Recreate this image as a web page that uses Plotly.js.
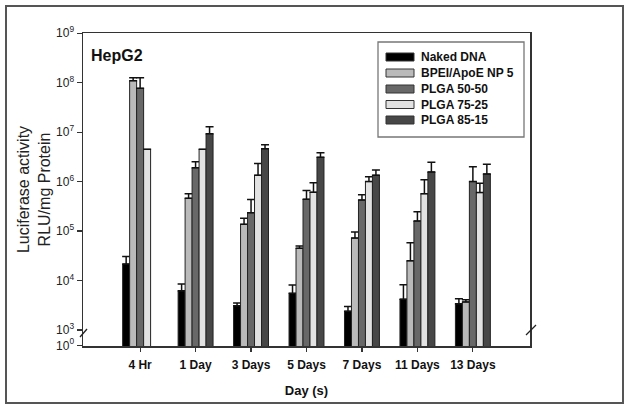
<!DOCTYPE html>
<html>
<head>
<meta charset="utf-8">
<script src="https://cdn.plot.ly/plotly-3.0.1.min.js"></script>
<style>
  html, body { margin: 0; padding: 0; background: #fff; }
  #wrap { position: relative; width: 629px; height: 411px; }
  #chart { width: 629px; height: 411px; }
  #frame { position: absolute; left: 5px; top: 5px; width: 615px; height: 395px;
           border: 2px solid #555; pointer-events: none; }
</style>
</head>
<body>
<div id="wrap">
  <div id="chart"></div>
  <div id="frame"></div>
</div>
<script>
// ---- data ----
const categories = ['4 Hr', '1 Day', '3 Days', '5 Days', '7 Days', '11 Days', '13 Days'];
const seriesNames = ['Naked DNA', 'BPEI/ApoE NP 5', 'PLGA 50-50', 'PLGA 75-25', 'PLGA 85-15'];

const nakedDNA    = [2.15e4, 6.2e3, 3.1e3, 5.5e3, 2.4e3, 4.2e3, 3.4e3];
const nakedDNAErr = [0.9e4, 2.3e3, 0.4e3, 2.6e3, 0.6e3, 4.0e3, 0.9e3];
const bpei        = [1.1e8, 4.6e5, 1.37e5, 4.5e4, 7.2e4, 2.5e4, 3.7e3];
const bpeiErr     = [1.6e7, 1.1e5, 4.5e4, 5e3, 2.4e4, 3.3e4, 0.4e3];
const plga5050    = [7.7e7, 1.9e6, 2.35e5, 4.4e5, 4.25e5, 1.6e5, 1.0e6];
const plga5050Err = [4.9e7, 6.2e5, 2.0e5, 2.2e5, 1.2e5, 8.7e4, 1.0e6];
const plga7525    = [4.5e6, 4.5e6, 1.35e6, 6.1e5, 1.0e6, 5.7e5, 6.0e5];
const plga7525Err = [0, 0, 9.7e5, 3.4e5, 2.6e5, 5.2e5, 3.3e5];
const plga8515    = [null, 9.3e6, 4.6e6, 3.1e6, 1.35e6, 1.57e6, 1.43e6];
const plga8515Err = [null, 3.6e6, 9.5e5, 7.4e5, 3.6e5, 8.9e5, 8.1e5];

const yTickVals = [Math.pow(10, 2.69), 1e3, 1e4, 1e5, 1e6, 1e7, 1e8, 1e9];
const yTickText = ['10<sup>0</sup>', '10<sup>3</sup>', '10<sup>4</sup>', '10<sup>5</sup>',
                   '10<sup>6</sup>', '10<sup>7</sup>', '10<sup>8</sup>', '10<sup>9</sup>'];

// ---- styles ----
const colors = ['#000000', '#bababa', '#686868', '#e2e2e2', '#474747'];
const values = [nakedDNA, bpei, plga5050, plga7525, plga8515];
const errors = [nakedDNAErr, bpeiErr, plga5050Err, plga7525Err, plga8515Err];
const FONT = 'Liberation Sans, Arial, sans-serif';

const traces = seriesNames.map((name, i) => ({
  type: 'bar',
  name: name,
  x: categories,
  y: values[i],
  marker: { color: colors[i], line: { color: '#222', width: 1 } },
  error_y: {
    type: 'data', symmetric: false,
    array: errors[i],
    arrayminus: errors[i].map(() => 0),
    color: '#111', thickness: 1.5, width: 4
  },
  showlegend: false
}));

// pixel -> paper helpers (plot area 83..530 x 33..346)
const L = 83, R = 530, T = 33, B = 346;
const px = x => (x - L) / (R - L);
const py = y => (B - y) / (B - T);

const shapes = [
  // axis break marks
  { type: 'line', xref: 'paper', yref: 'paper', x0: px(80), y0: py(337), x1: px(87), y1: py(329),
    line: { color: '#222', width: 1.3 } },
  { type: 'line', xref: 'paper', yref: 'paper', x0: px(526), y0: py(335), x1: px(536), y1: py(325),
    line: { color: '#222', width: 1.3 } },
  // legend box
  { type: 'rect', xref: 'paper', yref: 'paper', x0: px(378), y0: py(137), x1: px(524), y1: py(42),
    line: { color: '#777', width: 1.3 }, fillcolor: 'rgba(0,0,0,0)' }
];
const annotations = [
  { xref: 'paper', yref: 'paper', x: px(89), y: py(56), xanchor: 'left', yanchor: 'middle',
    text: 'HepG2', showarrow: false, font: { family: FONT, size: 16, color: '#111', weight: 'bold' } }
];
const rowY = [57, 73, 89, 104.5, 120];
seriesNames.forEach((name, i) => {
  shapes.push({ type: 'rect', xref: 'paper', yref: 'paper',
    x0: px(386), x1: px(414), y0: py(rowY[i] + 4), y1: py(rowY[i] - 4),
    fillcolor: colors[i], line: { color: '#333', width: 1 } });
  annotations.push({ xref: 'paper', yref: 'paper', x: px(419), y: py(rowY[i]),
    xanchor: 'left', yanchor: 'middle', text: name, showarrow: false,
    font: { family: FONT, size: 12, color: '#111', weight: 'bold' } });
});

const layout = {
  width: 629, height: 411,
  margin: { l: L, r: 629 - R, t: T, b: 411 - B, pad: 0 },
  paper_bgcolor: '#fff', plot_bgcolor: '#fff',
  font: { family: FONT, color: '#222' },
  barmode: 'group', bargap: 0.37, bargroupgap: 0,
  showlegend: false,
  xaxis: {
    type: 'category', range: [-1.03, 7.03],
    showline: true, linecolor: '#333', linewidth: 1.5, mirror: true,
    ticks: 'outside', ticklen: 4, tickcolor: '#333', tickwidth: 1.2,
    ticklabelstandoff: 3,
    tickfont: { family: FONT, size: 12, color: '#111', weight: 'bold' },
    showgrid: false, zeroline: false,
    title: { text: 'Day (s)', standoff: 15, font: { family: FONT, size: 13, color: '#111', weight: 'bold' } }
  },
  yaxis: {
    type: 'log', range: [2.676, 9.005],
    tickmode: 'array', tickvals: yTickVals, ticktext: yTickText,
    showline: true, linecolor: '#333', linewidth: 1.5, mirror: true,
    ticks: 'outside', ticklen: 5, tickcolor: '#333', tickwidth: 1.2,
    tickfont: { family: FONT, size: 12, color: '#222' },
    showgrid: false, zeroline: false,
    title: { text: 'Luciferase activity<br>RLU/mg Protein', standoff: 1,
             font: { family: FONT, size: 16, color: '#222' } }
  },
  shapes: shapes,
  annotations: annotations
};

Plotly.newPlot('chart', traces, layout, { displayModeBar: false, staticPlot: true });
</script>
</body>
</html>
